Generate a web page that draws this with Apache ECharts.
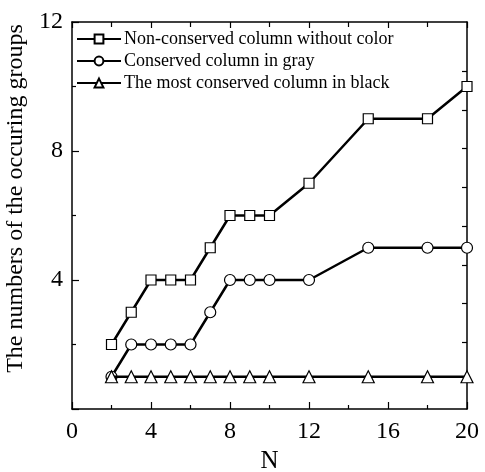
<!DOCTYPE html>
<html>
<head>
<meta charset="utf-8">
<script src="https://cdn.jsdelivr.net/npm/echarts@6/dist/echarts.min.js"></script>
<style>html,body{margin:0;padding:0;background:#fff}#c{width:485px;height:472px}</style>
</head>
<body>
<div id="c"></div>
<script>
const seriesNames = ['Non-conserved column without color', 'Conserved column in gray', 'The most conserved column in black'];
const nValues = [2, 3, 4, 5, 6, 7, 8, 9, 10, 12, 15, 18, 20];
const nonConserved = [2, 3, 4, 4, 4, 5, 6, 6, 6, 7, 9, 9, 10];
const conservedGray = [1, 2, 2, 2, 2, 3, 4, 4, 4, 4, 5, 5, 5];
const mostConservedBlack = [1, 1, 1, 1, 1, 1, 1, 1, 1, 1, 1, 1, 1];
const rightAxisTicks = [0.87, 2.07, 3.27, 4.47, 5.67, 6.87, 8.07, 9.27, 10.47];
const symbols = ['rect', 'circle', 'triangle'];
const symbolSizes = [10, 11, 12];

const FONT = 'Liberation Serif';
const chart = echarts.init(document.getElementById('c'));

function pairs(ys) { return nValues.map((x, i) => [x, ys[i]]); }
const allData = [nonConserved, conservedGray, mostConservedBlack];

const axisLine = { show: true, onZero: false, lineStyle: { color: '#000', width: 1.5 } };

chart.setOption({
  animation: false,
  backgroundColor: '#fff',
  grid: { left: 72, right: 18, top: 22, bottom: 63, containLabel: false, outerBoundsMode: 'none' },
  legend: {
    data: seriesNames,
    orient: 'vertical',
    left: 71, top: 25,
    itemWidth: 44, itemHeight: 11, itemGap: 4,
    textStyle: { fontFamily: FONT, fontSize: 18, color: '#000', padding: [0, 0, 0, -2] }
  },
  xAxis: [
    {
      type: 'value', min: 0, max: 20, interval: 4, position: 'bottom',
      axisLine: axisLine,
      axisTick: { show: true, inside: true, length: 7, lineStyle: { color: '#000', width: 1.2 } },
      minorTick: { show: true, splitNumber: 2, length: 4, lineStyle: { color: '#000', width: 1.2 } },
      splitLine: { show: false },
      axisLabel: { fontFamily: FONT, fontSize: 24, color: '#000', margin: 11 },
      name: 'N', nameLocation: 'middle', nameGap: 37,
      nameTextStyle: { fontFamily: FONT, fontSize: 25, color: '#000' }
    },
    {
      type: 'value', min: 0, max: 20, interval: 4, position: 'top',
      axisLine: axisLine,
      axisTick: { show: true, inside: true, length: 6, lineStyle: { color: '#000', width: 1.2 } },
      minorTick: { show: true, splitNumber: 2, length: 5, lineStyle: { color: '#000', width: 1.2 } },
      splitLine: { show: false },
      axisLabel: { show: false }
    }
  ],
  yAxis: [
    {
      type: 'value', min: 0, max: 12, interval: 4, position: 'left',
      axisLine: axisLine,
      axisTick: { show: true, inside: true, length: 7, lineStyle: { color: '#000', width: 1.2 } },
      minorTick: { show: true, splitNumber: 2, length: 4, lineStyle: { color: '#000', width: 1.2 } },
      splitLine: { show: false },
      axisLabel: { fontFamily: FONT, fontSize: 24, color: '#000', margin: 9, showMinLabel: false },
      name: 'The numbers of the occuring groups', nameLocation: 'middle', nameGap: 35,
      nameTextStyle: { fontFamily: FONT, fontSize: 24, color: '#000', padding: [0, 0, 0, 34] }
    },
    {
      type: 'value', min: 0, max: 12, position: 'right',
      axisLine: axisLine,
      axisTick: { show: true, inside: true, length: 5, customValues: rightAxisTicks, lineStyle: { color: '#000', width: 1.2 } },
      splitLine: { show: false },
      axisLabel: { show: false }
    }
  ],
  series: allData.map((ys, i) => ({
    name: seriesNames[i],
    type: 'line',
    xAxisIndex: 0, yAxisIndex: 0,
    data: pairs(ys),
    symbol: symbols[i],
    symbolSize: symbolSizes[i],
    showAllSymbol: true,
    lineStyle: { color: '#000', width: 2.5 },
    itemStyle: { color: '#fff', borderColor: '#000', borderWidth: 1.2 },
    z: 2 + i
  }))
});
</script>
</body>
</html>
